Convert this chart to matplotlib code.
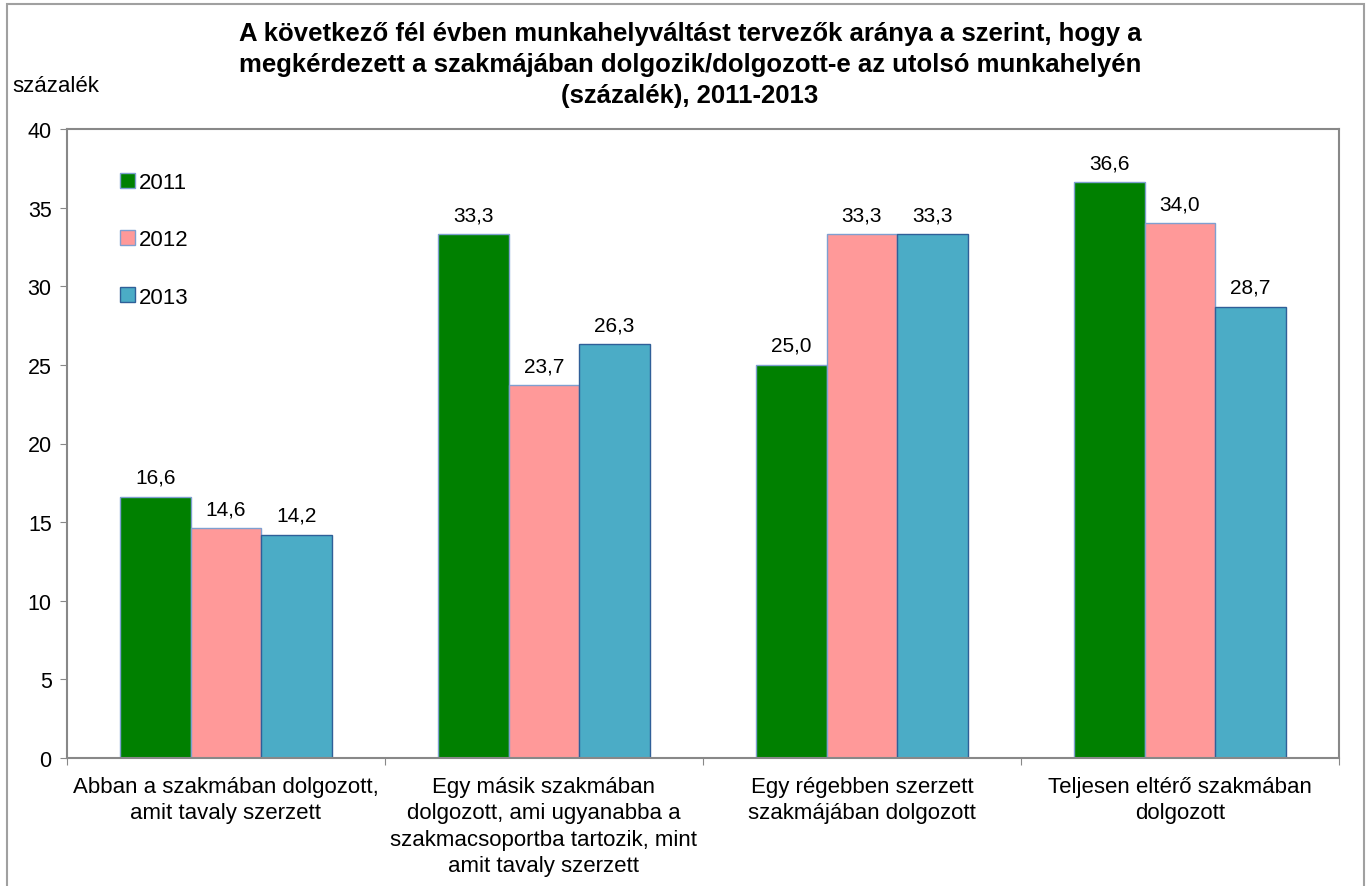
import numpy as np
import matplotlib.pyplot as plt
from matplotlib.patches import Rectangle

plt.rcParams['font.family'] = ['Liberation Sans', 'DejaVu Sans']

# adatok
kategoriak = ['Abban a szakmában dolgozott,\namit tavaly szerzett',
              'Egy másik szakmában\ndolgozott, ami ugyanabba a\nszakmacsoportba tartozik, mint\namit tavaly szerzett',
              'Egy régebben szerzett\nszakmájában dolgozott',
              'Teljesen eltérő szakmában\ndolgozott']
evek = ['2011', '2012', '2013']
v2011 = [16.6, 33.3, 25.0, 36.6]
v2012 = [14.6, 23.7, 33.3, 34.0]
v2013 = [14.2, 26.3, 33.3, 28.7]
yticks = [0, 5, 10, 15, 20, 25, 30, 35, 40]

szinek = ['#008000', '#FF9999', '#4BACC6']
elek = ['#7F9FD0', '#7F9FD0', '#2F5F98']

fig = plt.figure(figsize=(13.69, 8.87), dpi=100)
# külső keret
fig.patches.append(Rectangle((7/1369, -0.05), (1364-7)/1369, 1.05 - 5/887,
                             transform=fig.transFigure, fill=False,
                             edgecolor='#A0A0A0', linewidth=1.5))

ax = fig.add_axes([67/1369, 1-759/887, (1339-67)/1369, (759-130)/887])

x = np.arange(len(kategoriak))
w = 0.2222
for i, vals in enumerate([v2011, v2012, v2013]):
    pos = x + (i - 1) * w
    ax.bar(pos, vals, w, color=szinek[i], edgecolor=elek[i], linewidth=1,
           label=evek[i], zorder=2)
    for p, v in zip(pos, vals):
        ax.text(p, v + 0.65, f'{v:.1f}'.replace('.', ','), ha='center',
                va='bottom', fontsize=15)

ax.set_xlim(-0.5, len(kategoriak) - 0.5)
ax.set_ylim(0, 40)
ax.set_yticks(yticks)
ax.tick_params(axis='y', labelsize=15.5, length=5, color='#888888', pad=6)
ax.set_xticks(np.arange(len(kategoriak) + 1) - 0.5)
ax.set_xticklabels([])
ax.tick_params(axis='x', length=5, color='#888888')
ax.set_xticks(x, minor=True)
ax.set_xticklabels(kategoriak, minor=True, fontsize=16, linespacing=1.33)
ax.tick_params(axis='x', which='minor', length=0, pad=13)
for s in ax.spines.values():
    s.set_color('#888888')
    s.set_linewidth(1.5)

ax.legend(loc='upper left', bbox_to_anchor=(0.026, 0.963), frameon=False,
          fontsize=16, handlelength=0.65, handleheight=0.65, labelspacing=1.63,
          handletextpad=0.2)

fig.text(690/1369, 1-22/887,
         'A következő fél évben munkahelyváltást tervezők aránya a szerint, hogy a\n'
         'megkérdezett a szakmájában dolgozik/dolgozott-e az utolsó munkahelyén\n'
         '(százalék), 2011-2013',
         ha='center', va='top', fontsize=18.5, fontweight='bold', linespacing=1.36)
fig.text(12/1369, 1-87/887, 'százalék', ha='left', va='center', fontsize=16)

fig.savefig('out.png', dpi=100)
